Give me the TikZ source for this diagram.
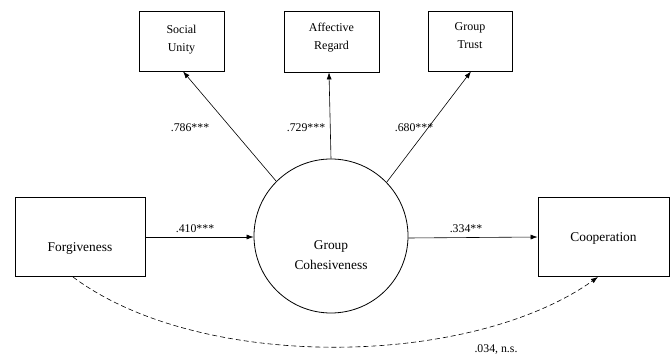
\documentclass[tikz,border=0pt]{standalone}
\usepackage{fontspec}
\setmainfont{Liberation Serif}
\usetikzlibrary{arrows.meta}
\begin{document}
\begin{tikzpicture}[x=1pt,y=-1pt,
  box/.style={draw,line width=0.8pt,inner sep=0pt},
  lbl/.style={font=\fontsize{12}{18}\selectfont,align=center,inner sep=1pt},
  big/.style={font=\fontsize{13.4}{20}\selectfont,align=center,inner sep=1pt},
  coef/.style={font=\fontsize{11.8}{13}\selectfont,inner sep=1pt},
  arr/.style={-{Latex[length=7pt,width=5pt]},line width=0.6pt}]
\useasboundingbox (0,0) rectangle (672,355);
% top indicator boxes
\node[box,minimum width=85pt,minimum height=60pt] (su) at (181.5,41) {};
\node[lbl] (sut) at (181.5,40) {Social\\Unity};
\node[box,minimum width=95pt,minimum height=61pt] (ar) at (331.5,41.5) {};
\node[lbl] (art) at (331.5,38) {Affective\\Regard};
\node[box,minimum width=84pt,minimum height=60pt] (gt) at (470,41) {};
\node[lbl] (gtt) at (470,36) {Group\\Trust};
% side boxes
\node[box,minimum width=130pt,minimum height=79pt] (fg) at (80,236.5) {};
\node[big] (fgt) at (80,249) {Forgiveness};
\node[box,minimum width=131pt,minimum height=79pt] (co) at (603.5,236.5) {};
\node[big] (cot) at (603.5,238) {Cooperation};
% latent
\node[circle,draw,line width=0.8pt,minimum size=154pt,inner sep=0pt] (gc) at (331,236) {};
\node[big] (gct) at (331,255) {Group\\Cohesiveness};
% paths
\draw[arr] (gc.135) -- ([xshift=1.5pt]su.south);
\draw[arr] (gc.90) -- ([xshift=-2.5pt]ar.south);
\draw[arr] (gc.44) -- ([xshift=1pt]gt.south);
\draw[arr] (fg.east |- 0,237) -- (gc.west |- 0,237);
\draw[arr] (gc.east |- 0,238) -- (co.west |- 0,237);
\coordinate (fgb) at (73,277);
\coordinate (cob) at (598,277);
\draw[arr,dashed,dash pattern=on 5pt off 3pt] (fgb) .. controls (200,372) and (470,368) .. (cob);
% coefficients
\node[coef] (c1) at (190,128) {.786***};
\node[coef] (c2) at (306,128) {.729***};
\node[coef] (c3) at (414,128) {.680***};
\node[coef] (c4) at (195,229) {.410***};
\node[coef] (c5) at (466,229) {.334**};
\node[coef] (c6) at (496,349) {.034, n.s.};
\end{tikzpicture}
\end{document}
